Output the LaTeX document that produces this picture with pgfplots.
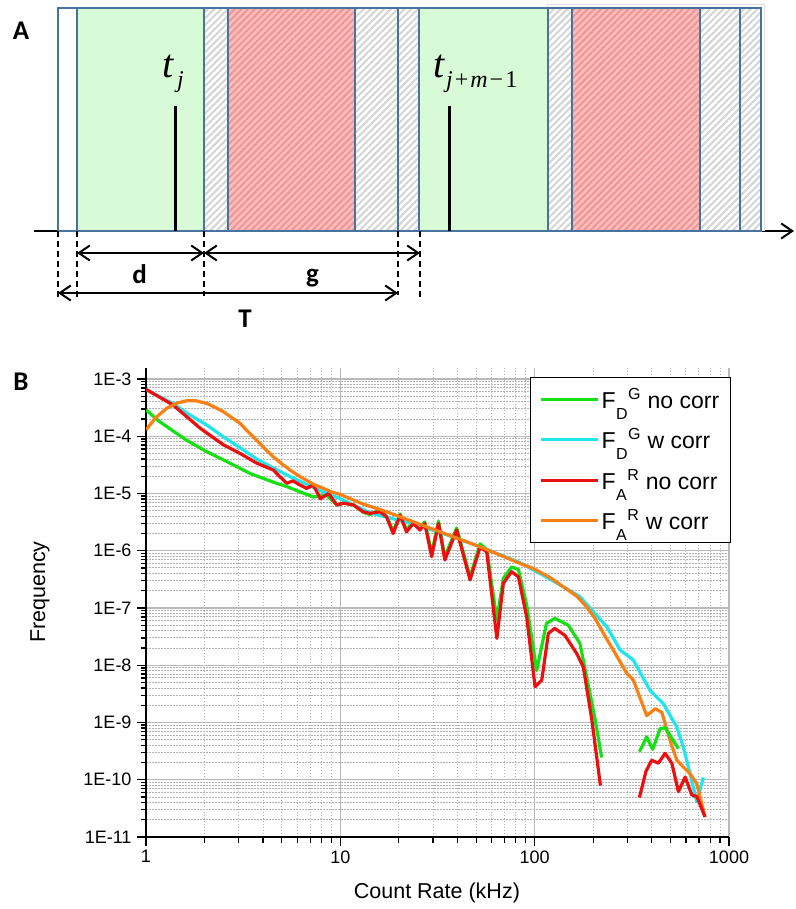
\documentclass[border=0pt]{standalone}
\usepackage{fontspec}
\setmainfont{Liberation Sans}
\newfontfamily\serifit{Liberation Serif}
\newfontfamily\calib{Carlito}
\usepackage{pgfplots}
\pgfplotsset{compat=1.18}
\usetikzlibrary{patterns.meta,arrows.meta}

\definecolor{cG}{RGB}{20,225,20}
\definecolor{cC}{RGB}{30,230,235}
\definecolor{cR}{RGB}{235,15,15}
\definecolor{cO}{RGB}{250,128,20}
\definecolor{boxblue}{RGB}{70,115,160}
\definecolor{greenfill}{RGB}{217,250,214}
\definecolor{redfill}{RGB}{255,188,188}
\definecolor{redstripe}{RGB}{238,150,150}
\definecolor{hatchgrey}{RGB}{212,212,212}

\newcommand{\FF}[2]{F\kern0.5pt\raisebox{-11pt}{\fontsize{16}{16}\selectfont #1}\kern0.5pt\raisebox{9pt}{\fontsize{16}{16}\selectfont #2}\kern7pt}

\begin{document}
\begin{tikzpicture}
\path[use as bounding box] (0pt,0pt) rectangle (795pt,-909pt);
\begin{scope}[x=1pt,y=-1pt]
 % time axis
 \draw[line width=2pt, -{Straight Barb[length=11pt,width=15pt,line width=2pt]}] (34,231) -- (794,231);
 \draw[gray!25, line width=1pt] (547,5) rectangle (764,231);
 \foreach \a/\b in {204/228,355/398,398/419,548/572,700/740,740/761}{
   \fill[white] (\a,8) rectangle (\b,231);
   \fill[pattern={Lines[angle=45,distance=4.8pt,line width=2pt]}, pattern color=hatchgrey] (\a,8) rectangle (\b,231);
 }
 \foreach \a/\b in {228/355,572/700}{
   \fill[redfill] (\a,8) rectangle (\b,231);
   \fill[pattern={Lines[angle=45,distance=4.8pt,line width=2pt]}, pattern color=redstripe] (\a,8) rectangle (\b,231);
 }
 \foreach \a/\b in {77/204,419/548}{
   \fill[greenfill] (\a,8) rectangle (\b,231);
 }
 \fill[white] (58,8) rectangle (77,231);
 \foreach \a/\b in {58/77,77/204,204/228,228/355,355/398,398/419,419/548,548/572,572/700,700/740,740/761}{
   \draw[boxblue,line width=1.5pt] (\a,8) rectangle (\b,231);
 }
 % event spikes
 \draw[line width=3pt] (175,106) -- (175,231);
 \draw[line width=3pt] (449,106) -- (449,231);
 \node[anchor=base west, inner sep=0pt] at (162,78) {\fontsize{40}{40}\selectfont\serifit\itshape t};
 \node[anchor=base west, inner sep=0pt] at (177,88) {\fontsize{24}{24}\selectfont\serifit\itshape j};
 \node[anchor=base west, inner sep=0pt] at (433,78) {\fontsize{40}{40}\selectfont\serifit\itshape t};
 \node[anchor=base west, inner sep=0pt] at (446,88) {\fontsize{24}{24}\selectfont\serifit{\itshape j}\kern2pt+\kern2pt{\itshape m}\kern2pt\char"2212\kern2pt1};
 % dashed markers
 \foreach \x/\yb in {58/300,77/300,204/296,398/295,420/297}{
   \draw[line width=2pt, dash pattern=on 6pt off 4pt] (\x,231) -- (\x,\yb);
 }
 % dimension arrows
 \tikzset{barb/.tip={Straight Barb[length=11pt,width=15pt,line width=2pt]}}
 \draw[line width=1.2pt, barb-barb] (77,253) -- (204,253);
 \draw[line width=1.2pt, barb-barb] (204,253) -- (420,253);
 \draw[line width=1.2pt, barb-barb] (58,293) -- (398,293);
 \node[anchor=base, inner sep=0pt] at (139.5,283) {\fontsize{27}{27}\selectfont\calib\bfseries d};
 \node[anchor=base, inner sep=0pt] at (312.5,282) {\fontsize{27}{27}\selectfont\calib\bfseries g};
 \node[anchor=base, inner sep=0pt] at (245,327) {\fontsize{27}{27}\selectfont\calib\bfseries T};
 \node[anchor=base, inner sep=0pt] at (21,40) {\fontsize{27}{27}\selectfont\calib\bfseries A};
 \node[anchor=base, inner sep=0pt] at (21,390) {\fontsize{27}{27}\selectfont\calib\bfseries B};
\end{scope}

\begin{axis}[
  at={(146pt,-837pt)}, anchor=south west,
  width=583pt, height=469pt, scale only axis,
  xmode=log, ymode=log,
  xmin=1, xmax=1000, ymin=1e-11, ymax=1.556e-3,
  axis x line*=bottom, axis y line*=left,
  axis line style={-, line width=2pt, black},
  every outer x axis line/.append style={-},
  every outer y axis line/.append style={-},
  tick align=outside,
  major tick length=9pt, minor tick length=5.5pt,
  every tick/.style={black, line width=1.3pt},
  xtick={1,10,100,1000}, xticklabels={1,10,100,1000},
  ytick={1e-11,1e-10,1e-9,1e-8,1e-7,1e-6,1e-5,1e-4,1e-3},
  yticklabels={1E-11,1E-10,1E-9,1E-8,1E-7,1E-6,1E-5,1E-4,1E-3},
  minor xtick={2,3,4,5,6,7,8,9,20,30,40,50,60,70,80,90,200,300,400,500,600,700,800,900},
  minor ytick={2e-11,3e-11,4e-11,5e-11,6e-11,7e-11,8e-11,9e-11,
    2e-10,3e-10,4e-10,5e-10,6e-10,7e-10,8e-10,9e-10,
    2e-9,3e-9,4e-9,5e-9,6e-9,7e-9,8e-9,9e-9,
    2e-8,3e-8,4e-8,5e-8,6e-8,7e-8,8e-8,9e-8,
    2e-7,3e-7,4e-7,5e-7,6e-7,7e-7,8e-7,9e-7,
    2e-6,3e-6,4e-6,5e-6,6e-6,7e-6,8e-6,9e-6,
    2e-5,3e-5,4e-5,5e-5,6e-5,7e-5,8e-5,9e-5,
    2e-4,3e-4,4e-4,5e-4,6e-4,7e-4,8e-4,9e-4},
  grid=both,
  major grid style={gray!55, line width=1.3pt},
  minor grid style={gray!60, line width=1pt, dash pattern=on 1.5pt off 1.5pt},
  tick label style={font=\fontsize{18}{20}\selectfont},
  yticklabel style={xshift=-2pt},
  xticklabel style={yshift=-1pt},
  label style={font=\fontsize{21.5}{24}\selectfont},
  xlabel={Count Rate (kHz)},
  ylabel={Frequency},
  xlabel style={at={(axis description cs:0.499,-0.119)}, anchor=center},
  ylabel style={at={(axis description cs:-0.182,0.522)}, anchor=center},
  legend style={at={(1.003,0.981)}, anchor=north east, draw=black, line width=1pt, fill=white,
    font=\fontsize{23}{23}\selectfont, row sep=6.5pt, inner xsep=9pt, inner ysep=5pt,
    nodes={inner sep=2pt, text height=24pt, text depth=6pt}},
  legend cell align=left,
  legend image code/.code={\draw[#1, line width=3pt] (0pt,0pt) -- (57pt,0pt);},
  every axis plot/.append style={line width=3.2pt, line join=round},
]
\addplot[cG] coordinates {
(1,2.88e-4) (1.18,1.78e-4) (1.62,8.5e-5) (2.05,5.4e-5) (2.7,3.4e-5) (3.43,2.24e-5)
(4.52,1.58e-5) (5.3,1.32e-5) (6.2,1.07e-5) (7.26,8.7e-6) (8.5,9.3e-6) (9.6,6.3e-6)
(10.4,6.8e-6) (11.7,6.3e-6) (13.1,4.7e-6) (14.2,4.3e-6) (16.0,5.2e-6) (17.3,4.0e-6)
(18.7,2.2e-6) (20.3,4.4e-6) (21.9,2.3e-6) (23.7,3.2e-6) (25.7,2.5e-6) (27.2,3.2e-6)
(29.5,8.9e-7) (32,3.3e-6) (34.5,7.9e-7) (39.7,2.5e-6) (46.5,3.5e-7) (52.4,1.32e-6)
(56.7,1.05e-6) (63.9,6.2e-8) (69,3.3e-7) (76,5.2e-7) (82.5,4.7e-7) (91,1.12e-7)
(102.4,8.1e-9) (115,5.4e-8) (127,6.6e-8) (149,5.0e-8) (171,2.4e-8) (205,1.1e-9) (221,2.45e-10)
};
\addlegendentry{\FF{D}{G}no corr}
\addplot[cC] coordinates {
(1,6.6e-4) (1.18,4.9e-4) (1.38,3.7e-4) (1.62,2.55e-4) (2.05,1.58e-4) (2.5,9.8e-5) (3.05,6.3e-5)
(3.71,4.0e-5) (4.52,2.8e-5) (5.5,1.98e-5) (6.7,1.45e-5) (8.2,1.06e-5)
(10,8.1e-6) (14.2,4.6e-6) (25,2.8e-6) (38.2,1.74e-6) (52.4,1.17e-6) (84,6.2e-7)
(115,3.47e-7) (171,1.58e-7) (235,4.7e-8) (275,1.86e-8) (322,1.23e-8) (393,3.6e-9)
(459,2.14e-9) (539,8.3e-10) (582,3.7e-10) (631,1.26e-10) (683,4.1e-11) (738,1.1e-10)
};
\addlegendentry{\FF{D}{G}w corr}
\addplot[cR] coordinates {
(1,6.6e-4) (1.38,3.5e-4) (1.9,1.38e-4) (2.5,7.1e-5) (3.05,5.0e-5) (3.71,3.4e-5)
(4.52,2.57e-5) (4.9,1.95e-5) (5.3,1.51e-5) (5.7,1.66e-5) (6.2,1.41e-5) (6.7,1.23e-5)
(7.26,1.41e-5) (7.9,8.1e-6) (8.7,1.0e-5) (9.6,6.3e-6) (10.4,6.8e-6) (11.7,6.3e-6)
(13.1,4.8e-6) (14.2,4.5e-6) (16.0,4.8e-6) (17.3,3.9e-6) (18.7,2.0e-6) (20.3,4.2e-6)
(21.9,2.14e-6) (23.7,3.0e-6) (25.7,2.3e-6) (27.2,3.0e-6) (29.5,7.9e-7) (32,3.0e-6)
(34.5,6.9e-7) (39.7,2.3e-6) (46.5,3.1e-7) (52.4,1.17e-6) (56.7,9.5e-7) (63.9,2.95e-8)
(69,2.7e-7) (76,4.3e-7) (82.5,3.5e-7) (91,6.9e-8) (100.5,4.2e-9) (108.8,5.5e-9)
(117.6,3.6e-8) (127,4.4e-8) (143.4,3.3e-8) (165,1.58e-8) (178,9.3e-9) (197,1.1e-9) (218,7.9e-11)
};
\addlegendentry{\FF{A}{R}no corr}
\addplot[cO] coordinates {
(1,1.29e-4) (1.12,2.1e-4) (1.28,3.09e-4) (1.45,3.8e-4) (1.62,4.17e-4) (1.8,4.17e-4)
(2.05,3.76e-4) (2.25,3.24e-4) (2.5,2.69e-4) (2.75,2.14e-4) (3.05,1.68e-4) (3.35,1.2e-4)
(3.71,8.5e-5) (4.1,6.0e-5) (4.52,4.37e-5) (5.0,3.3e-5) (5.51,2.57e-5) (6.1,2.04e-5)
(6.7,1.7e-5) (7.4,1.41e-5) (8.18,1.23e-5) (9,1.07e-5) (10,9.6e-6)
(13,6.6e-6) (17.3,4.8e-6) (25,3.0e-6) (38.2,1.75e-6) (52.4,1.17e-6) (70,7.8e-7) (84,6.0e-7) (98.5,4.9e-7)
(120,3.4e-7) (140.6,2.34e-7) (165,1.6e-7) (185,1.05e-7) (205,6.5e-8) (226,3.6e-8) (260,1.6e-8) (298,7.2e-9) (322,5.5e-9) (377,1.32e-9)
(417,1.74e-9) (451,1.51e-9) (497,4.9e-10) (539,2.19e-10) (631,1.27e-10) (683,8.5e-11) (753,2.24e-11)
};
\addlegendentry{\FF{A}{R}w corr}
\addplot[cG, forget plot] coordinates {
(346,3.1e-10) (377,5.6e-10) (405,3.4e-10) (442,7.8e-10) (469,8.1e-10) (549,3.5e-10)
};
\addplot[cR, forget plot] coordinates {
(346,4.9e-11) (374,1.41e-10) (400,2.19e-10) (433,1.95e-10) (469,2.9e-10) (508,1.95e-10)
(549,6.2e-11) (595,1.12e-10) (644,5.4e-11) (683,5.1e-11) (753,2.24e-11)
};
\end{axis}
\end{tikzpicture}
\end{document}
